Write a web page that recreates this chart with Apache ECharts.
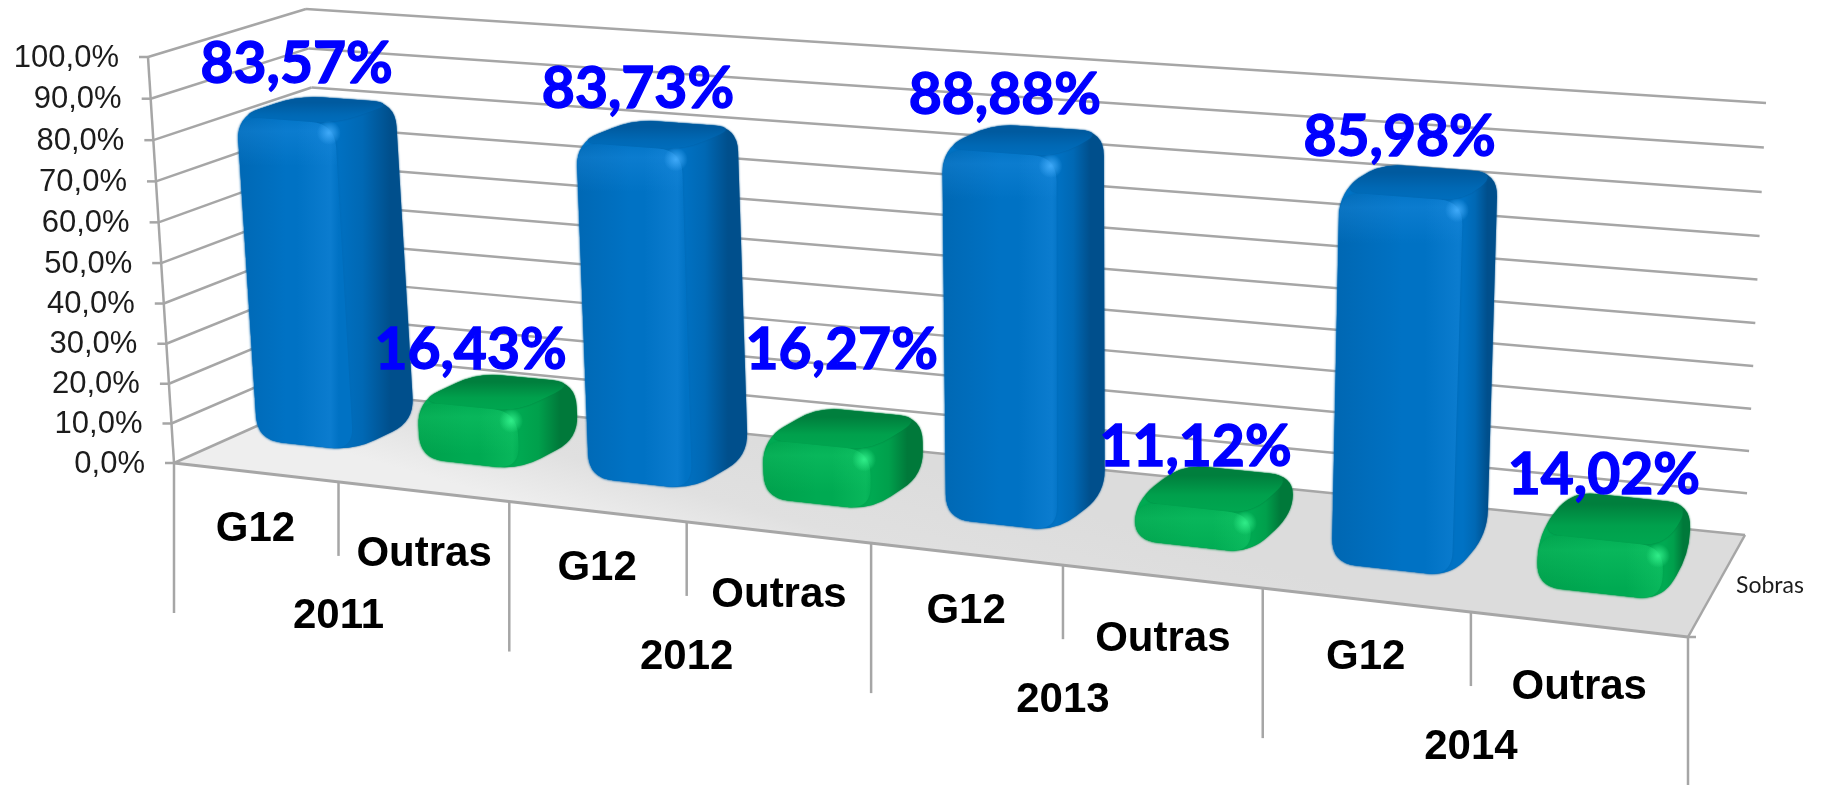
<!DOCTYPE html>
<html><head><meta charset="utf-8">
<style>html,body{margin:0;padding:0;background:#fff}#c{width:1823px;height:785px}</style>
<script src="https://cdn.jsdelivr.net/npm/echarts@6/dist/echarts.min.js"></script>
</head><body><div id="c"></div>
<script>
const years = ['2011','2012','2013','2014'];
const groups = ['G12','Outras'];
const g12Values = [83.57,83.73,88.88,85.98];
const outrasValues = [16.43,16.27,11.12,14.02];
const yTicks = [0,10,20,30,40,50,60,70,80,90,100];
const depthLabel = 'Sobras';

const W=1823,H=785;
// perspective frame (screen corners of the chart box)
const FRONT=[[174,463],[1688,637],[1712,165],[148,57]];
const BACK=[[333,392],[1745,535],[1766,103],[306,9]];
function homography(q){
  const [p0,p1,p2,p3]=q;
  const dx1=p1[0]-p2[0],dx2=p3[0]-p2[0],sx=p0[0]-p1[0]+p2[0]-p3[0];
  const dy1=p1[1]-p2[1],dy2=p3[1]-p2[1],sy=p0[1]-p1[1]+p2[1]-p3[1];
  const d=dx1*dy2-dx2*dy1;
  const g=(sx*dy2-dx2*sy)/d,h=(dx1*sy-sx*dy1)/d;
  const a=p1[0]-p0[0]+g*p1[0],b=p3[0]-p0[0]+h*p3[0],c=p0[0];
  const e=p1[1]-p0[1]+g*p1[1],f=p3[1]-p0[1]+h*p3[1],i=p0[1];
  return (u,v)=>{const z=g*u+h*v+1;return [(a*u+b*v+c)/z,(e*u+f*v+i)/z];};
}
const Hf=homography(FRONT),Hb=homography(BACK);
function P(u,v,w){const a=Hf(u,v),b=Hb(u,v);return [a[0]+(b[0]-a[0])*w,a[1]+(b[1]-a[1])*w];}
// data -> unit cube through the chart's own axes
function uv(api,cat,val){const c=api.coord([cat,val]);return [c[0]/W,1-c[1]/H];}

function line(a,b,color,lw){return {type:'line',shape:{x1:a[0],y1:a[1],x2:b[0],y2:b[1]},style:{stroke:color,lineWidth:lw,fill:null}};}
function rounded(pts,r){
  const n=pts.length;let d='';
  for(let i=0;i<n;i++){
    const p=pts[i],a=pts[(i+n-1)%n],b=pts[(i+1)%n];
    const la=Math.hypot(a[0]-p[0],a[1]-p[1]),lb=Math.hypot(b[0]-p[0],b[1]-p[1]);
    const ra=Math.min(r,la/2)/la,rb=Math.min(r,lb/2)/lb;
    const s=[p[0]+(a[0]-p[0])*ra,p[1]+(a[1]-p[1])*ra],t=[p[0]+(b[0]-p[0])*rb,p[1]+(b[1]-p[1])*rb];
    d+=(i?'L':'M')+s[0].toFixed(1)+' '+s[1].toFixed(1)+'Q'+p[0].toFixed(1)+' '+p[1].toFixed(1)+' '+t[0].toFixed(1)+' '+t[1].toFixed(1);
  }
  return d+'Z';
}
function hull(points){
  const p=points.slice().sort((a,b)=>a[0]-b[0]||a[1]-b[1]);
  const cr=(o,a,b)=>(a[0]-o[0])*(b[1]-o[1])-(a[1]-o[1])*(b[0]-o[0]);
  const lo=[],up=[];
  for(const q of p){while(lo.length>1&&cr(lo[lo.length-2],lo[lo.length-1],q)<=0)lo.pop();lo.push(q);}
  for(const q of p.slice().reverse()){while(up.length>1&&cr(up[up.length-2],up[up.length-1],q)<=0)up.pop();up.push(q);}
  return lo.slice(0,-1).concat(up.slice(0,-1));
}

const leafCats=[];years.forEach(y=>groups.forEach(g=>leafCats.push(g)));
const barValues=[];g12Values.forEach((v,i)=>{barValues.push(v);barValues.push(outrasValues[i]);});

const BLUE={side:'#004f8c',top:'#005a9f',a:'#0068b4',b:'#0072c4',hi:'#3fa9f8',band:'40,150,235'};
const GREEN={side:'#00793a',top:'#007f3d',a:'#00a04c',b:'#00aa52',hi:'#30ec88',band:'30,215,115'};
const HALF=0.037,W1=0.76,BEVEL=2;
const shift=u=>-0.006+0.006*u;
const frontDepth=u=>0.37-0.06*u;

function renderFrame(params,api){
  if(params.dataIndex!==0) return null;
  const kids=[];
  const c='#a6a6a6';
  const floor=[P(0,0,0),P(1,0,0),P(1,0,1),P(0,0,1)];
  kids.push({type:'polygon',shape:{points:floor},style:{fill:{type:'linear',global:true,x:900,y:460,x2:860,y2:600,colorStops:[{offset:0,color:'#dcdcdc'},{offset:.6,color:'#e0e0e0'},{offset:1,color:'#eeeeee'}]},stroke:null}});
  yTicks.forEach(t=>{
    const m=uv(api,0,t);const v=m[1];
    const a=P(0,v,0),b=P(0,v,1),d=P(1,v,1);
    kids.push(line(a,b,c,2.5));
    kids.push(line(b,d,c,2.5));
    kids.push(line([a[0]-9,a[1]],a,c,2.5));
    kids.push({type:'text',style:{text:t.toFixed(1).replace('.',',')+'%',x:a[0]-29,y:a[1]+1,align:'right',verticalAlign:'middle',fill:'#1c1c1c',font:'31px "Liberation Sans"'}});
  });
  kids.push(line(P(0,0,0),P(0,1,0),c,2.5));
  kids.push(line(P(0,0,0),P(1,0,0),c,3));
  kids.push(line(P(1,0,0),P(1,0,1),c,2.5));
  const fr=P(1,0,0);
  kids.push(line(fr,[fr[0]+8,fr[1]],c,2.5));
  for(let i=0;i<=leafCats.length;i++){
    const u=i/leafCats.length,t=P(u,0,0),major=i%2===0;
    kids.push(line(t,[t[0],t[1]+(major?150:74)],c,2.5));
  }
  leafCats.forEach((g,i)=>{
    const u=uv(api,i,0)[0],t=P(u,0,0);
    kids.push({type:'text',style:{text:g,x:t[0]+(i%2?1:0),y:t[1]+(i%2?63:57),align:'center',verticalAlign:'middle',fill:'#000',font:'bold 42px "Liberation Sans"'}});
  });
  years.forEach((y,i)=>{
    const t=P((2*i+1)/leafCats.length,0,0);
    kids.push({type:'text',style:{text:y,x:t[0],y:t[1]+135,align:'center',verticalAlign:'middle',fill:'#000',font:'bold 42px "Liberation Sans"'}});
  });
  kids.push({type:'text',style:{text:depthLabel,x:1736,y:586,align:'left',verticalAlign:'middle',fill:'#1c1c1c',font:'23px Lato'}});
  return {type:'group',children:kids};
}
function renderBar(params,api){
  const i=api.value(0),val=api.value(1);
  const pal=i%2?GREEN:BLUE;
  const m=uv(api,i,val-BEVEL),base=uv(api,i,0);
  const s=shift(m[0]);
  const u0=m[0]+s-HALF,u1=m[0]+s+HALF,v1=m[1],v0=base[1];
  const W0=frontDepth(m[0]);
  const fbl=P(u0,v0,W0),fbr=P(u1,v0,W0),ftr=P(u1,v1,W0),ftl=P(u0,v1,W0);
  const bbl=P(u0,v0,W1),bbr=P(u1,v0,W1),btr=P(u1,v1,W1),btl=P(u0,v1,W1);
  const R=24;
  const kids=[];
  const sil=hull([fbl,fbr,ftr,ftl,bbl,bbr,btr,btl]);
  const maxX=Math.max(...sil.map(p=>p[0]));
  const topY=Math.min(...sil.map(p=>p[1]));
  kids.push({type:'path',shape:{pathData:rounded(sil,R)},style:{fill:{type:'linear',global:true,x:ftr[0],y:0,x2:maxX,y2:0,colorStops:[{offset:0,color:pal.b},{offset:.35,color:pal.a},{offset:.7,color:pal.side},{offset:1,color:pal.side}]},shadowBlur:2,shadowColor:pal.side}});
  kids.push({type:'path',shape:{pathData:rounded([ftl,ftr,btr,btl],R)},style:{fill:{type:'linear',global:true,x:0,y:ftr[1]+6,x2:0,y2:topY,colorStops:[{offset:0,color:pal.b},{offset:.45,color:pal.a},{offset:.8,color:pal.top},{offset:1,color:pal.top}]},shadowBlur:2,shadowColor:pal.top}});
  const frontPath=rounded([fbl,fbr,ftr,ftl],R);
  const grad={type:'linear',global:true,x:ftl[0],y:0,x2:ftr[0],y2:0,colorStops:[{offset:0,color:pal.a},{offset:.5,color:pal.b},{offset:1,color:pal.b}]};
  kids.push({type:'path',shape:{pathData:frontPath},style:{fill:grad,shadowBlur:3,shadowColor:pal.a}});
  // soft lit bands along the upper and right edges of the front face
  const clear='rgba('+pal.band+',0)',lit='rgba('+pal.band+',0.28)';
  kids.push({type:'path',shape:{pathData:frontPath},style:{fill:{type:'linear',global:true,x:0,y:ftl[1]-4,x2:0,y2:ftr[1]+42,colorStops:[{offset:0,color:clear},{offset:.35,color:lit},{offset:1,color:clear}]}}});
  kids.push({type:'path',shape:{pathData:frontPath},style:{fill:{type:'linear',global:true,x:ftr[0]-38,y:0,x2:ftr[0]+4,y2:0,colorStops:[{offset:0,color:clear},{offset:.8,color:lit},{offset:1,color:clear}]}}});
  const hx=ftr[0]-6,hy=ftr[1]+9;
  kids.push({type:'circle',shape:{cx:hx,cy:hy,r:12},style:{fill:{type:'radial',global:true,x:hx,y:hy,r:12,colorStops:[{offset:0,color:pal.hi},{offset:1,color:pal.hi+'00'}]}}});
  return {type:'group',children:kids};
}
// small hand placement of each printed value, relative to the top of its bar
const labelNudge=[[-30,-34],[-36,-30],[-28,-33],[-9,-65],[-25,-32],[-24,-26],[-22,-30],[-12,-26]];
function renderLabel(params,api){
  const i=api.value(0),val=api.value(1);
  const m=uv(api,i,val);
  const a=P(m[0]-0.004,m[1],0.62);
  const n=labelNudge[i];
  return {type:'text',z2:10,style:{text:val.toFixed(2).replace('.',',')+'%',x:a[0]+n[0],y:a[1]+n[1],align:'center',verticalAlign:'middle',fill:'#0000ff',stroke:'#0000ff',lineWidth:1.4,font:'bold 57px Lato'}};
}
const chart=echarts.init(document.getElementById('c'),null,{renderer:'canvas',width:W,height:H});
const rows=barValues.map((v,i)=>[i,v]);
chart.setOption({
  animation:false,backgroundColor:'#fff',
  grid:{left:0,right:0,top:0,bottom:0,containLabel:false},
  xAxis:{type:'category',data:leafCats,show:false},
  yAxis:{type:'value',min:0,max:100,interval:10,show:false},
  tooltip:{show:false},
  series:[
    {type:'custom',name:'frame',renderItem:renderFrame,data:rows,clip:false,z:1,silent:true},
    {type:'custom',name:'bars',renderItem:renderBar,data:rows,encode:{x:0,y:1},clip:false,z:2,silent:true},
    {type:'custom',name:'labels',renderItem:renderLabel,data:rows,encode:{x:0,y:1},clip:false,z:3,silent:true}
  ]
});
</script></body></html>
